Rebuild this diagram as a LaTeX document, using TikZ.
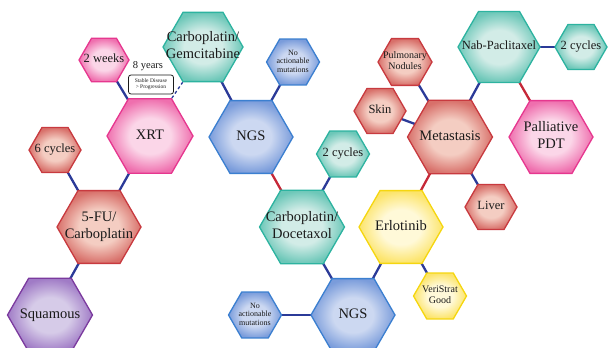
\documentclass[tikz,border=0pt]{standalone}
\usepackage{fontspec}
\setmainfont{Liberation Serif}
\usetikzlibrary{shapes.geometric}

% palette: border / rim / centre of each family of cells
\definecolor{pinkB}{HTML}{E6378F}\definecolor{pinkO}{HTML}{EF6FAE}\definecolor{pinkI}{HTML}{FBD6E8}
\definecolor{tealB}{HTML}{2DB3A0}\definecolor{tealO}{HTML}{6CC7B8}\definecolor{tealI}{HTML}{D2ECE7}
\definecolor{blueB}{HTML}{3B7FD0}\definecolor{blueO}{HTML}{7A9CDB}\definecolor{blueI}{HTML}{CCD8F1}
\definecolor{redB}{HTML}{C83A3F}\definecolor{redO}{HTML}{D8706A}\definecolor{redI}{HTML}{F4CDC2}
\definecolor{purpB}{HTML}{7B3A9E}\definecolor{purpO}{HTML}{A07BC6}\definecolor{purpI}{HTML}{D6CBE8}
\definecolor{yelB}{HTML}{F5D60F}\definecolor{yelO}{HTML}{FCE46A}\definecolor{yelI}{HTML}{FFF9D8}
\definecolor{linkBlue}{HTML}{2B3A98}
\definecolor{linkRed}{HTML}{C62838}
\definecolor{ink}{HTML}{1A1A1A}

% soft rim glow: flat light centre, darker towards the edge
\pgfdeclareradialshading{pinkglow}{\pgfpoint{0bp}{0bp}}{color(0bp)=(pinkI); color(12bp)=(pinkI); color(25bp)=(pinkO); color(50bp)=(pinkO)}
\pgfdeclareradialshading{tealglow}{\pgfpoint{0bp}{0bp}}{color(0bp)=(tealI); color(12bp)=(tealI); color(25bp)=(tealO); color(50bp)=(tealO)}
\pgfdeclareradialshading{blueglow}{\pgfpoint{0bp}{0bp}}{color(0bp)=(blueI); color(12bp)=(blueI); color(25bp)=(blueO); color(50bp)=(blueO)}
\pgfdeclareradialshading{redglow}{\pgfpoint{0bp}{0bp}}{color(0bp)=(redI); color(12bp)=(redI); color(25bp)=(redO); color(50bp)=(redO)}
\pgfdeclareradialshading{purpglow}{\pgfpoint{0bp}{0bp}}{color(0bp)=(purpI); color(12bp)=(purpI); color(25bp)=(purpO); color(50bp)=(purpO)}
\pgfdeclareradialshading{yelglow}{\pgfpoint{0bp}{0bp}}{color(0bp)=(yelI); color(12bp)=(yelI); color(25bp)=(yelO); color(50bp)=(yelO)}

\pgfdeclarelayer{links}
\pgfsetlayers{links,main}

% zero-width centred text block so the cell size is set by minimum size alone
\newcommand\celltext[1]{\makebox[0pt]{\begin{tabular}{@{}c@{}}#1\end{tabular}}}

\tikzset{
  hexcell/.style={regular polygon, regular polygon sides=6, inner sep=0pt,
    minimum size=#1, line width=1.3pt, text=ink},
  pinkcell/.style={hexcell=#1, draw=pinkB, shading=pinkglow},
  tealcell/.style={hexcell=#1, draw=tealB, shading=tealglow},
  bluecell/.style={hexcell=#1, draw=blueB, shading=blueglow},
  redcell/.style={hexcell=#1, draw=redB, shading=redglow},
  purpcell/.style={hexcell=#1, draw=purpB, shading=purpglow},
  yelcell/.style={hexcell=#1, draw=yelB, shading=yelglow},
  bigtxt/.style={font=\fontsize{14.5}{17}\selectfont},
  midtxt/.style={font=\fontsize{12.5}{14}\selectfont},
  smalltxt/.style={font=\fontsize{10}{11}\selectfont},
  tinytxt/.style={font=\fontsize{8}{8.6}\selectfont},
  bluelink/.style={draw=linkBlue, line width=2.3pt},
  redlink/.style={draw=linkRed, line width=2.3pt},
  dashlink/.style={draw=linkBlue, line width=1.3pt, dash pattern=on 3pt off 2.5pt},
}

\begin{document}
\begin{tikzpicture}[x=1pt, y=-1pt]
\useasboundingbox (0,0) rectangle (608,348);

% left branch
\node[pinkcell=86, bigtxt] (xrt) at (150,136) {\celltext{XRT}};
\node[pinkcell=50, midtxt] (weeks) at (104,60) {\celltext{2 weeks}};
\node[redcell=52, midtxt] (sixc) at (55,150) {\celltext{6 cycles}};
\node[redcell=84, bigtxt] (fu) at (99,227) {\celltext{5-FU/\\Carboplatin}};
\node[purpcell=85, bigtxt] (squ) at (50,315) {\celltext{Squamous}};

% upper middle
\node[tealcell=80, bigtxt] (cgem) at (203,47) {\celltext{Carboplatin/\\Gemcitabine}};
\node[bluecell=53, tinytxt] (noa1) at (293,62) {\celltext{No\\actionable\\mutations}};
\node[bluecell=84, bigtxt] (ngs1) at (251,137) {\celltext{NGS}};

% lower middle
\node[tealcell=53, midtxt] (twoc) at (343,154) {\celltext{2 cycles}};
\node[tealcell=85, bigtxt] (cdoc) at (302,227) {\celltext{Carboplatin/\\Docetaxol}};
\node[bluecell=84, bigtxt] (ngs2) at (353,315) {\celltext{NGS}};
\node[bluecell=53, tinytxt] (noa2) at (255,315) {\celltext{No\\actionable\\mutations}};
\node[yelcell=84, bigtxt] (erl) at (401,227) {\celltext{Erlotinib}};
\node[yelcell=53, smalltxt] (veri) at (440,296) {\celltext{VeriStrat\\Good}};

% right branch
\node[redcell=85, bigtxt] (meta) at (450,137) {\celltext{Metastasis}};
\node[redcell=52, midtxt] (liver) at (491,207) {\celltext{Liver}};
\node[redcell=52, midtxt] (skin) at (380,111) {\celltext{Skin}};
\node[redcell=54, smalltxt] (pulm) at (405,62) {\celltext{Pulmonary\\Nodules}};
\node[tealcell=82, midtxt] (nab) at (499,47) {\celltext{Nab-Paclitaxel}};
\node[tealcell=52, midtxt] (cycr) at (581,47) {\celltext{2 cycles}};
\node[pinkcell=84, bigtxt] (pdt) at (551,137) {\celltext{Palliative\\PDT}};

% interval note beside the dashed link
\node[font=\fontsize{10.5}{11}\selectfont, text=ink] (yrs) at (148,66) {8 years};
\node[draw=ink, line width=0.8pt, rounded corners=2.5pt, inner sep=1.5pt,
      font=\fontsize{5.5}{6.3}\selectfont, text=ink, align=center,
      minimum width=45pt, minimum height=19pt] (note) at (151,84.5)
      {Stable Disease\\> Progression};

\begin{pgfonlayer}{links}
  \path[bluelink] (weeks.center) -- (xrt.center);
  \path[bluelink] (xrt.center) -- (fu.center);
  \path[bluelink] (sixc.center) -- (fu.center);
  \path[bluelink] (fu.center) -- (squ.center);
  \path[bluelink] (cgem.center) -- (ngs1.center);
  \path[bluelink] (noa1.center) -- (ngs1.center);
  \path[redlink]  (ngs1.center) -- (cdoc.center);
  \path[bluelink] (twoc.center) -- (cdoc.center);
  \path[bluelink] (cdoc.center) -- (ngs2.center);
  \path[bluelink] (noa2.center) -- (ngs2.center);
  \path[bluelink] (ngs2.center) -- (erl.center);
  \path[bluelink] (erl.center) -- (veri.center);
  \path[redlink]  (erl.center) -- (meta.center);
  \path[bluelink] (meta.center) -- (liver.center);
  \path[bluelink] (meta.center) -- (skin.center);
  \path[bluelink] (meta.center) -- (pulm.center);
  \path[bluelink] (meta.center) -- (nab.center);
  \path[bluelink] (nab.center) -- (cycr.center);
  \path[redlink]  (nab.center) -- (pdt.center);
\end{pgfonlayer}
\path[dashlink] (xrt.60) -- (cgem.240);
\end{tikzpicture}
\end{document}
